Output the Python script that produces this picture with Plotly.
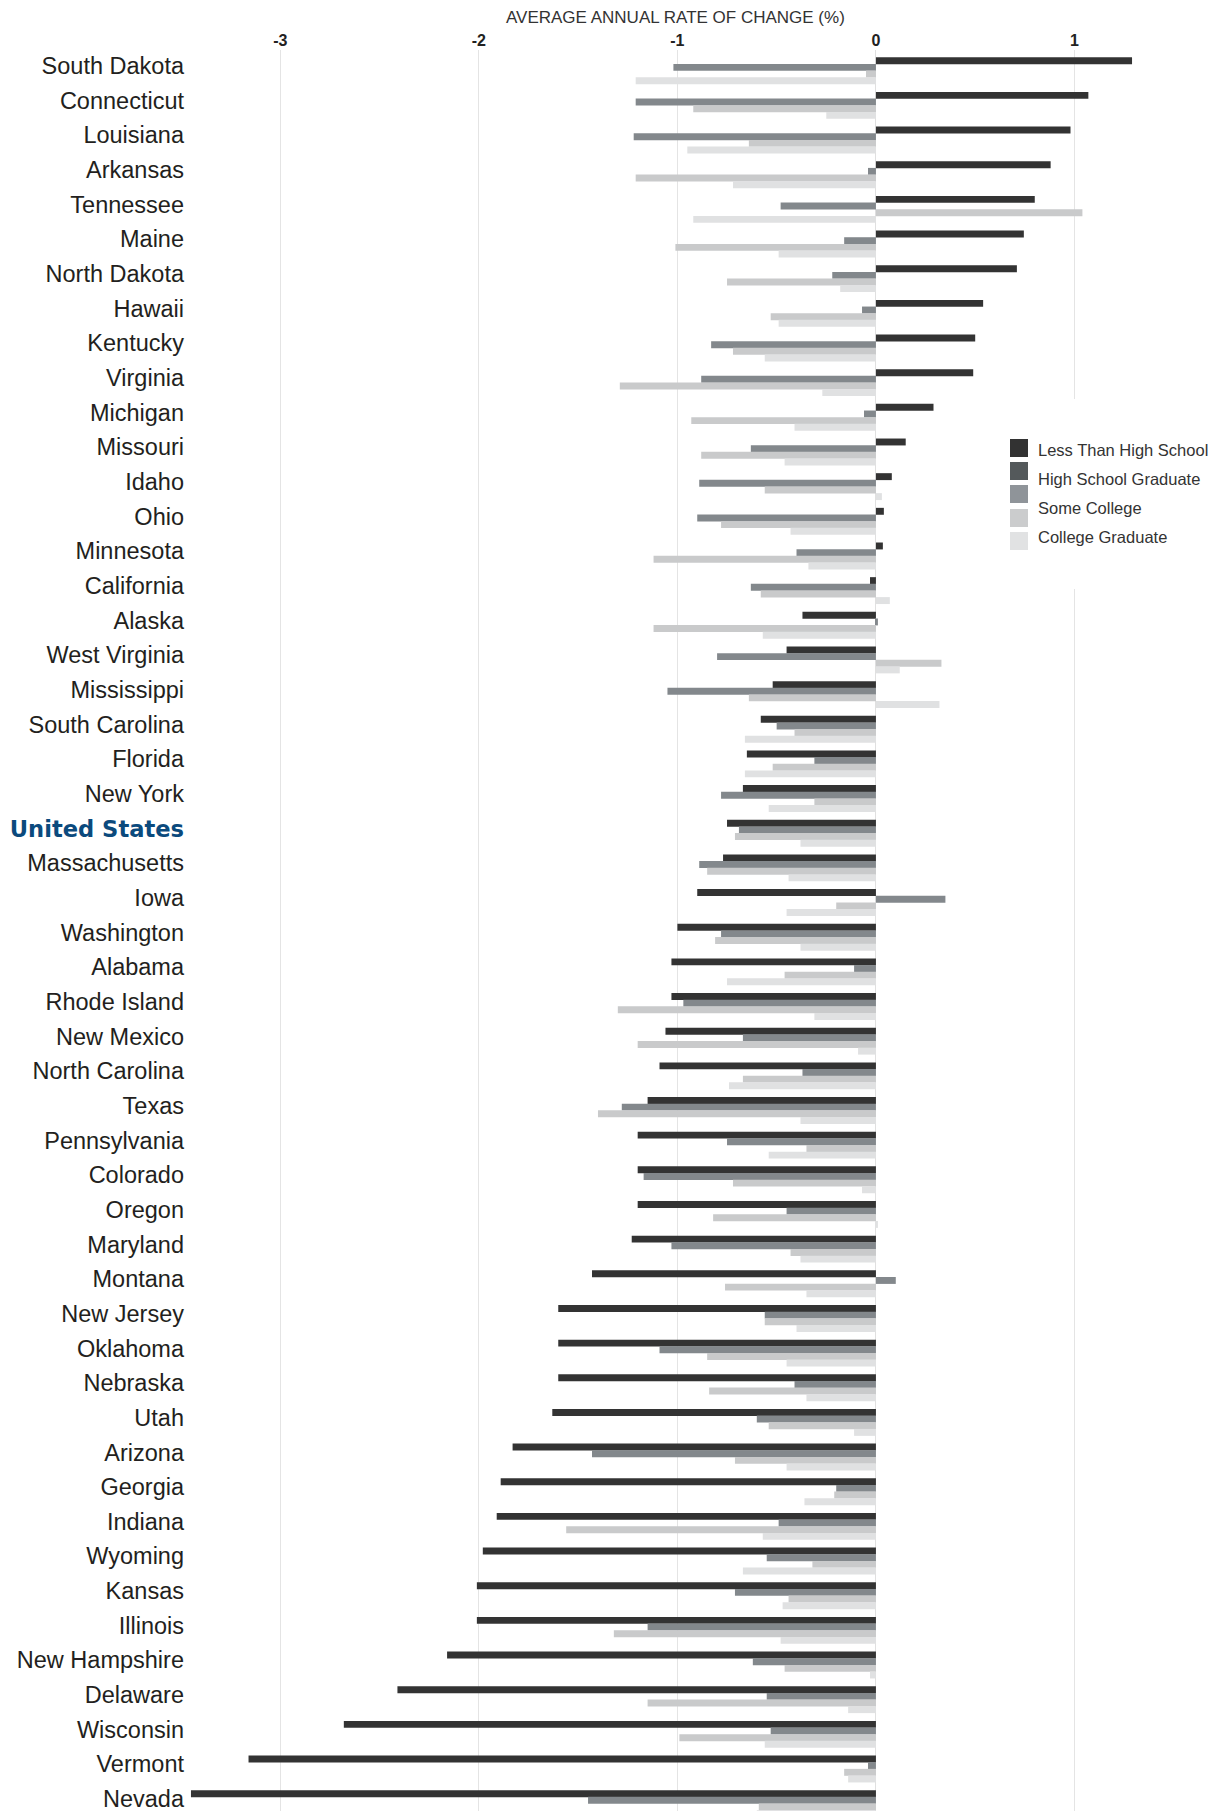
import plotly.graph_objects as go

states = ["South Dakota", "Connecticut", "Louisiana", "Arkansas", "Tennessee", "Maine",
          "North Dakota", "Hawaii", "Kentucky", "Virginia", "Michigan", "Missouri", "Idaho",
          "Ohio", "Minnesota", "California", "Alaska", "West Virginia", "Mississippi",
          "South Carolina", "Florida", "New York", "United States", "Massachusetts", "Iowa",
          "Washington", "Alabama", "Rhode Island", "New Mexico", "North Carolina", "Texas",
          "Pennsylvania", "Colorado", "Oregon", "Maryland", "Montana", "New Jersey", "Oklahoma",
          "Nebraska", "Utah", "Arizona", "Georgia", "Indiana", "Wyoming", "Kansas", "Illinois",
          "New Hampshire", "Delaware", "Wisconsin", "Vermont", "Nevada"]

less_than_hs = [1.29, 1.07, 0.98, 0.88, 0.80, 0.745, 0.71, 0.54, 0.50, 0.49, 0.29, 0.15, 0.08,
                0.04, 0.035, -0.03, -0.37, -0.45, -0.52, -0.58, -0.65, -0.67, -0.75, -0.77, -0.90,
                -1.00, -1.03, -1.03, -1.06, -1.09, -1.15, -1.20, -1.20, -1.20, -1.23, -1.43, -1.60,
                -1.60, -1.60, -1.63, -1.83, -1.89, -1.91, -1.98, -2.01, -2.01, -2.16, -2.41, -2.68,
                -3.16, -3.45]
hs_grad = [-1.02, -1.21, -1.22, -0.04, -0.48, -0.16, -0.22, -0.07, -0.83, -0.88, -0.06, -0.63, -0.89,
           -0.90, -0.40, -0.63, 0.01, -0.80, -1.05, -0.50, -0.31, -0.78, -0.69, -0.89, 0.35,
           -0.78, -0.11, -0.97, -0.67, -0.37, -1.28, -0.75, -1.17, -0.45, -1.03, 0.10, -0.56,
           -1.09, -0.41, -0.60, -1.43, -0.20, -0.49, -0.55, -0.71, -1.15, -0.62, -0.55, -0.53,
           -0.04, -1.45]
some_college = [-0.05, -0.92, -0.64, -1.21, 1.04, -1.01, -0.75, -0.53, -0.72, -1.29, -0.93, -0.88, -0.56,
                -0.78, -1.12, -0.58, -1.12, 0.33, -0.64, -0.41, -0.52, -0.31, -0.71, -0.85, -0.20,
                -0.81, -0.46, -1.30, -1.20, -0.67, -1.40, -0.35, -0.72, -0.82, -0.43, -0.76, -0.56,
                -0.85, -0.84, -0.54, -0.71, -0.21, -1.56, -0.32, -0.44, -1.32, -0.46, -1.15, -0.99,
                -0.16, -0.59]
college_grad = [-1.21, -0.25, -0.95, -0.72, -0.92, -0.49, -0.18, -0.49, -0.56, -0.27, -0.41, -0.46, 0.03,
                -0.43, -0.34, 0.07, -0.57, 0.12, 0.32, -0.66, -0.66, -0.54, -0.38, -0.44, -0.45,
                -0.38, -0.75, -0.31, -0.09, -0.74, -0.38, -0.54, -0.07, 0.01, -0.38, -0.35, -0.40,
                -0.45, -0.35, -0.11, -0.45, -0.36, -0.57, -0.67, -0.47, -0.48, -0.03, -0.14, -0.56,
                -0.14, -0.60]

series_names = ["Less Than High School", "High School Graduate", "Some College", "College Graduate"]
bar_colors = ["#333333", "#83888c", "#c9cacb", "#e0e1e2"]

legend_labels = ["Less Than High School", "High School Graduate", "Some College", "College Graduate"]
swatch_colors = ["#323232", "#54595b", "#8f9499", "#cbcccd", "#e1e2e3"]

x_ticks = [-3, -2, -1, 0, 1]
x_tick_labels = ["-3", "-2", "-1", "0", "1"]
x_title = "AVERAGE ANNUAL RATE OF CHANGE (%)"
highlight = "United States"

SANS = "Liberation Sans, Arial, Helvetica, sans-serif"

# the page body has an 8px default margin: figure pixel = page pixel - 8
BODY = 8
W, H = 1220, 1811
ML = 185 - BODY
MT = 50 - BODY
MB = BODY
MR = W - (1138 - BODY)
PW, PH = W - ML - MR, H - MT - MB


def px_x(p):
    """page x pixel -> paper coordinate"""
    return (p - BODY - ML) / PW


def px_y(p):
    """page y pixel -> paper coordinate"""
    return (H - MB - (p - BODY)) / PH


fig = go.Figure()
all_series = [less_than_hs, hs_grad, some_college, college_grad]
for i, (name, vals, col) in enumerate(zip(series_names, all_series, bar_colors)):
    fig.add_trace(go.Bar(
        y=states, x=vals, orientation="h", name=name,
        width=0.2, offset=-0.25 + 0.192 * i,
        marker=dict(color=col, line=dict(width=0)),
        showlegend=False,
    ))

tick_text = []
for s in states:
    if s == highlight:
        tick_text.append('<span style="font-family:DejaVu Sans;font-weight:bold;color:#0b4a7d;font-size:22.6px">'
                         + s + '</span>')
    else:
        tick_text.append(s)

fig.update_layout(
    width=W, height=H, autosize=False,
    margin=dict(l=ML, r=MR, t=MT, b=MB, pad=0, autoexpand=False),
    paper_bgcolor="white", plot_bgcolor="white",
    barmode="overlay",
    font=dict(family=SANS, color="#231f20"),
    xaxis=dict(
        side="top", range=[-3.48, 1.32], autorange=False, automargin=False,
        tickvals=x_ticks, ticktext=x_tick_labels,
        tickfont=dict(family=SANS, size=16, color="#222222", weight="bold"),
        showgrid=True, gridcolor="#e4e4e4", gridwidth=1,
        zeroline=True, zerolinecolor="#e0e0e0", zerolinewidth=1,
        showline=False, ticks="", fixedrange=True, ticklabelstandoff=0,
    ),
    yaxis=dict(
        type="category", categoryorder="array", categoryarray=states,
        range=[50.35, -0.46], autorange=False, automargin=False,
        tickvals=states, ticktext=tick_text,
        tickfont=dict(family=SANS, size=23.5, color="#231f20"),
        showgrid=False, zeroline=False, showline=False, ticks="",
        ticklabelstandoff=0, fixedrange=True,
    ),
)

# axis title
fig.add_annotation(
    x=-1.01, xref="x", y=px_y(17), yref="paper", text=x_title, showarrow=False,
    xanchor="center", yanchor="middle",
    font=dict(family=SANS, size=17, color="#333333"),
)

# custom legend (box + swatches + labels), page pixel positions
fig.add_shape(type="rect", xref="paper", yref="paper",
              x0=px_x(984), x1=px_x(1232), y0=px_y(589), y1=px_y(399),
              fillcolor="white", line=dict(width=0), layer="above")
sw_tops = [439, 462, 485, 509, 532]
for top, col in zip(sw_tops, swatch_colors):
    fig.add_shape(type="rect", xref="paper", yref="paper",
                  x0=px_x(1010), x1=px_x(1028), y0=px_y(top + 18), y1=px_y(top),
                  fillcolor=col, line=dict(width=0), layer="above")
label_centers = [450, 479, 508, 537]
for yc, lab in zip(label_centers, legend_labels):
    fig.add_annotation(x=px_x(1036), xref="paper", y=px_y(yc), yref="paper", text=lab,
                       showarrow=False, xanchor="left", yanchor="middle",
                       font=dict(family=SANS, size=16.5, color="#333333"))

fig.write_html("out.html")
